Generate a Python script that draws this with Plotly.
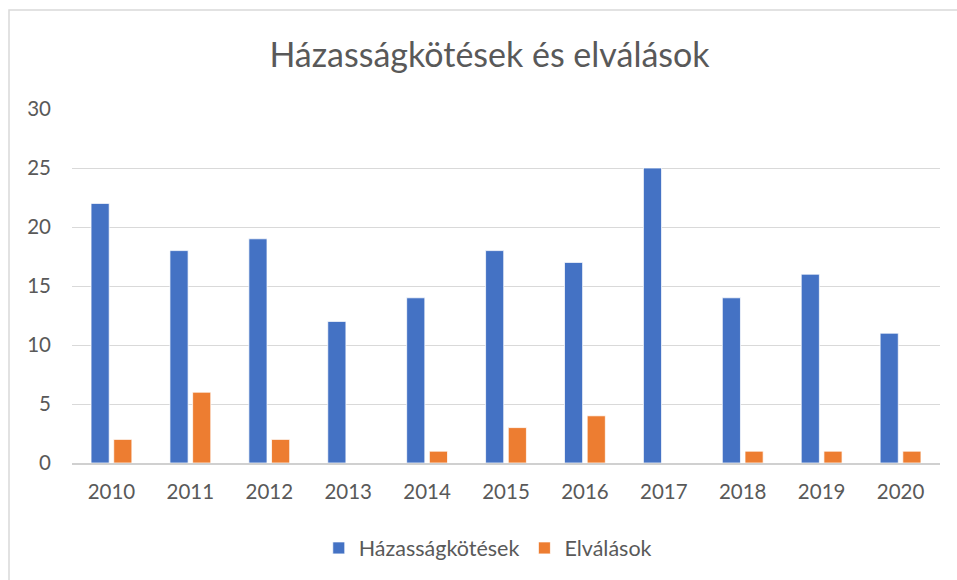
import plotly.graph_objects as go

years = ["2010", "2011", "2012", "2013", "2014", "2015", "2016", "2017", "2018", "2019", "2020"]
hazassag = [22, 18, 19, 12, 14, 18, 17, 25, 14, 16, 11]
valas = [2, 6, 2, 0, 1, 3, 4, 0, 1, 1, 1]

FONT = "Lato, Open Sans, sans-serif"
GRAY = "#595959"

fig = go.Figure()
fig.add_trace(go.Bar(x=years, y=hazassag, name="Házasságkötések", marker_color="#4472C4",
                     marker_line=dict(color="white", width=0.75)))
fig.add_trace(go.Bar(x=years, y=valas, name="Elválások", marker_color="#ED7D31",
                     marker_line=dict(color="white", width=0.75)))

fig.update_layout(
    width=957, height=580,
    margin=dict(l=72, r=17, t=109, b=117),
    paper_bgcolor="white", plot_bgcolor="white",
    barmode="group", bargap=0.425, bargroupgap=0.2,
    title=dict(text="Házasságkötések és elválások", x=0.5115, xref="container", xanchor="center",
               y=1 - 55/580, yref="container", yanchor="middle",
               font=dict(family=FONT, size=34, color=GRAY)),
    font=dict(family=FONT, color=GRAY),
    legend=dict(orientation="h", x=0.479, xanchor="center", y=-0.24, yanchor="middle",
                font=dict(size=21.5, color=GRAY), itemwidth=30),
    xaxis=dict(showline=True, linecolor="#d0d0d0", linewidth=1.5, ticks="",
               ticklabelstandoff=10,
               tickfont=dict(size=20.5, color=GRAY), showgrid=False),
    yaxis=dict(range=[0, 30], dtick=5, showgrid=True, gridcolor="#d9d9d9", gridwidth=1,
               zeroline=False, showline=False, ticks="", ticklabelstandoff=20,
               tickfont=dict(size=20.5, color=GRAY)),
    shapes=[dict(type="rect", xref="paper", yref="paper",
                 x0=(9 - 72) / 868, x1=(965 - 72) / 868,
                 y0=(463 - 590) / 354, y1=(463 - 10) / 354,
                 line=dict(color="#d9d9d9", width=1.5), fillcolor="rgba(0,0,0,0)", layer="below")],
)

fig.write_html("out.html", config={"displayModeBar": False})
with open("out.html", encoding="utf-8") as f:
    html = f.read()
html = html.replace("<body>", "<body style=\"margin:0;overflow:hidden\">", 1)
with open("out.html", "w", encoding="utf-8") as f:
    f.write(html)
